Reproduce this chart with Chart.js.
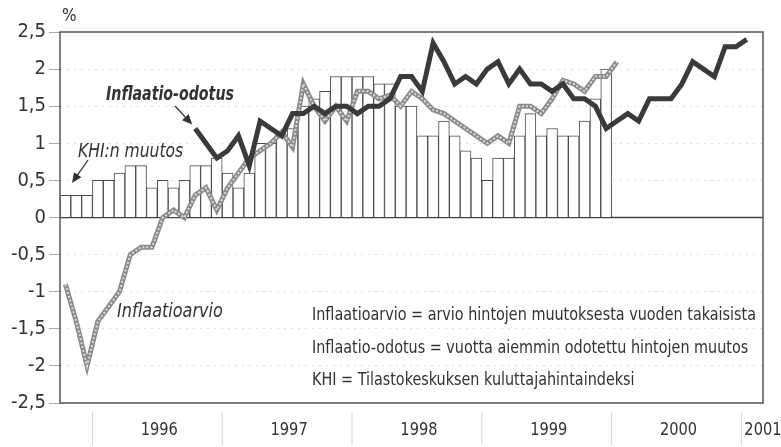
<!DOCTYPE html>
<html>
<head>
<meta charset="utf-8">
<script src="https://cdn.jsdelivr.net/npm/chart.js@4/dist/chart.umd.min.js"></script>
<style>
  html, body { margin: 0; padding: 0; background: #fff; }
  #wrap { width: 781px; height: 447px; position: relative; }
</style>
</head>
<body>
<div id="wrap"><canvas id="myChart"></canvas></div>
<script>
// months 10/1995 .. 2/2001
const months = [];
for (let yr = 1995; yr <= 2001; yr++) {
  for (let m = 1; m <= 12; m++) {
    if ((yr === 1995 && m < 10) || (yr === 2001 && m > 2)) continue;
    months.push(yr + "-" + String(m).padStart(2, "0"));
  }
}
const yearLabels = ["1996", "1997", "1998", "1999", "2000", "2001"];
const yTicks = [-2.5, -2, -1.5, -1, -0.5, 0, 0.5, 1, 1.5, 2, 2.5];

// KHI:n muutos, 10/1995 .. 12/1999
const khi = [
  0.3, 0.3, 0.3,
  0.5, 0.5, 0.6, 0.7, 0.7, 0.4, 0.5, 0.4, 0.5, 0.7, 0.7, 0.8,
  0.6, 0.4, 0.6, 1.0, 1.0, 1.1, 1.2, 1.5, 1.6, 1.7, 1.9, 1.9,
  1.9, 1.9, 1.8, 1.8, 1.5, 1.5, 1.1, 1.1, 1.3, 1.1, 0.9, 0.8,
  0.5, 0.8, 0.8, 1.1, 1.4, 1.1, 1.2, 1.1, 1.1, 1.3, 1.6, 2.0,
];

// Inflaatioarvio, 10/1995 .. 1/2000
const arvio = [
  -0.9, -1.4, -2.0,
  -1.4, -1.2, -1.0, -0.5, -0.4, -0.4, 0.0, 0.1, 0.0, 0.3, 0.4, 0.1,
  0.4, 0.6, 0.8, 0.9, 1.0, 1.15, 0.95, 1.8, 1.5, 1.3, 1.5, 1.3,
  1.7, 1.7, 1.6, 1.65, 1.5, 1.7, 1.6, 1.45, 1.4, 1.3, 1.2, 1.1,
  1.0, 1.1, 1.0, 1.5, 1.5, 1.4, 1.6, 1.85, 1.8, 1.7, 1.9, 1.9,
  2.1,
];

// Inflaatio-odotus, 10/1996 .. 1/2001
const odotusStart = 12;
const odotus = [
  1.2, 1.0, 0.8,
  0.9, 1.1, 0.7, 1.3, 1.2, 1.1, 1.4, 1.4, 1.5, 1.4, 1.5, 1.5,
  1.4, 1.5, 1.5, 1.6, 1.9, 1.9, 1.7, 2.35, 2.1, 1.8, 1.9, 1.8,
  2.0, 2.1, 1.8, 2.0, 1.8, 1.8, 1.7, 1.8, 1.6, 1.6, 1.5, 1.2,
  1.3, 1.4, 1.3, 1.6, 1.6, 1.6, 1.8, 2.1, 2.0, 1.9, 2.3, 2.3,
  2.4,
];

const legendLines = [
  "Inflaatioarvio = arvio hintojen muutoksesta vuoden takaisista",
  "Inflaatio-odotus = vuotta aiemmin odotettu hintojen muutos",
  "KHI = Tilastokeskuksen kuluttajahintaindeksi",
];

const FONT = "'Liberation Sans Narrow', 'DejaVu Sans Condensed', sans-serif";
const INK = "#333";

function arrow(ctx, x1, y1, x2, y2) {
  const a = Math.atan2(y2 - y1, x2 - x1);
  const len = 10, wing = 4.5;
  ctx.beginPath();
  ctx.moveTo(x1, y1);
  ctx.lineTo(x2 - Math.cos(a) * len * 0.8, y2 - Math.sin(a) * len * 0.8);
  ctx.stroke();
  ctx.beginPath();
  ctx.moveTo(x2, y2);
  ctx.lineTo(x2 - Math.cos(a) * len - Math.sin(a) * wing, y2 - Math.sin(a) * len + Math.cos(a) * wing);
  ctx.lineTo(x2 - Math.cos(a) * len + Math.sin(a) * wing, y2 - Math.sin(a) * len - Math.cos(a) * wing);
  ctx.closePath();
  ctx.fill();
}

// narrow text: squeeze horizontally
function narrowText(ctx, text, x, y, sx) {
  ctx.save();
  ctx.translate(x, y);
  ctx.scale(sx, 1);
  ctx.fillText(text, 0, 0);
  ctx.restore();
}

// frame, zero line, years, notes
const decor = {
  id: "decor",
  beforeDatasetsDraw(chart) {
    const { ctx, chartArea: a, scales: { y } } = chart;
    ctx.save();
    ctx.strokeStyle = "#444";
    ctx.lineWidth = 1.5;
    ctx.beginPath();
    ctx.moveTo(a.left, y.getPixelForValue(0));
    ctx.lineTo(a.right, y.getPixelForValue(0));
    ctx.stroke();
    ctx.restore();
  },
  afterDraw(chart) {
    const { ctx, chartArea: a, scales: { x, y } } = chart;
    ctx.save();
    ctx.strokeStyle = "#555";
    ctx.lineWidth = 1.5;
    ctx.strokeRect(a.left, a.top, a.width, a.height);

    // year separators and labels
    const half = (x.getPixelForValue(1) - x.getPixelForValue(0)) / 2;
    ctx.font = "18px " + FONT;
    ctx.fillStyle = INK;
    ctx.textBaseline = "middle";
    yearLabels.forEach((yl) => {
      const jan = months.indexOf(yl + "-01");
      const x0 = x.getPixelForValue(jan) - half;
      ctx.strokeStyle = "#d6d6d6";
      ctx.lineWidth = 1;
      ctx.beginPath();
      ctx.moveTo(x0, a.bottom + 9);
      ctx.lineTo(x0, a.bottom + 42);
      ctx.stroke();
      const dec = months.indexOf(yl + "-12");
      if (dec >= 0) {
        ctx.textAlign = "center";
        narrowText(ctx, yl, (x.getPixelForValue(jan) + x.getPixelForValue(dec)) / 2 + 2, a.bottom + 27, 0.9);
      } else {
        ctx.textAlign = "left";
        narrowText(ctx, yl, x0 + 3, a.bottom + 27, 0.9);
      }
    });

    // % unit
    ctx.textAlign = "left";
    ctx.font = "17px " + FONT;
    ctx.fillText("%", a.left + 2, a.top - 15);

    // series notes
    ctx.textBaseline = "alphabetic";
    ctx.font = "italic bold 19px " + FONT;
    narrowText(ctx, "Inflaatio-odotus", 106, 100, 0.83);
    ctx.font = "italic 19px " + FONT;
    narrowText(ctx, "KHI:n muutos", 78, 157, 0.91);
    narrowText(ctx, "Inflaatioarvio", 117, 317, 0.94);

    ctx.strokeStyle = INK;
    ctx.fillStyle = INK;
    ctx.lineWidth = 1.3;
    const ox = x.getPixelForValue(odotusStart);
    const oy = y.getPixelForValue(odotus[0]);
    arrow(ctx, 175, 106, ox - 3, oy - 4);
    arrow(ctx, 88, 160, 72, 183);

    // explanation
    ctx.font = "17px " + FONT;
    ctx.textBaseline = "middle";
    legendLines.forEach((t, i) => narrowText(ctx, t, 312, 316 + i * 32.5, 0.94));
    ctx.restore();
  },
};

const ctx = document.getElementById("myChart").getContext("2d");
new Chart(ctx, {
  data: {
    labels: months,
    datasets: [
      {
        type: "line",
        label: "Inflaatio-odotus",
        data: Array(odotusStart).fill(null).concat(odotus),
        borderColor: "#3a3a3a",
        borderWidth: 5,
        pointRadius: 0,
        tension: 0,
        order: 1,
      },
      {
        type: "line",
        label: "Inflaatioarvio",
        data: arvio,
        borderColor: "#dcdcdc",
        borderWidth: 2,
        borderDash: [2, 2],
        pointRadius: 0,
        tension: 0,
        order: 2,
      },
      {
        type: "line",
        label: "Inflaatioarvio pohja",
        data: arvio,
        borderColor: "#8a8a8a",
        borderWidth: 5,
        pointRadius: 0,
        tension: 0,
        order: 3,
      },
      {
        type: "bar",
        label: "KHI:n muutos",
        data: khi,
        backgroundColor: "#fff",
        borderColor: "#4a4a4a",
        borderWidth: 1,
        barPercentage: 1,
        categoryPercentage: 1,
        order: 4,
      },
    ],
  },
  options: {
    responsive: true,
    maintainAspectRatio: false,
    animation: false,
    devicePixelRatio: 1,
    layout: { padding: { top: 32, right: 18, left: 0, bottom: 0 } },
    plugins: { legend: { display: false }, tooltip: { enabled: false } },
    scales: {
      x: {
        offset: true,
        grid: { display: false },
        border: { display: false },
        ticks: { display: false },
        afterFit: (s) => { s.height = 44; },
      },
      y: {
        min: -2.5,
        max: 2.5,
        afterBuildTicks: (s) => { s.ticks = yTicks.map((v) => ({ value: v })); },
        afterFit: (s) => { s.width = 60; },
        border: { display: false, dash: [2, 5] },
        grid: {
          color: (c) => (c.tick && c.tick.value === 0 ? "rgba(0,0,0,0)" : "rgba(0,0,0,0.13)"),
          tickColor: "#aaa",
          tickLength: 11,
          tickBorderDash: [],
        },
        ticks: {
          padding: 3,
          color: INK,
          font: { family: FONT, size: 20 },
          callback: (v) => String(v).replace(".", ","),
        },
      },
    },
  },
  plugins: [decor],
});
</script>
</body>
</html>
